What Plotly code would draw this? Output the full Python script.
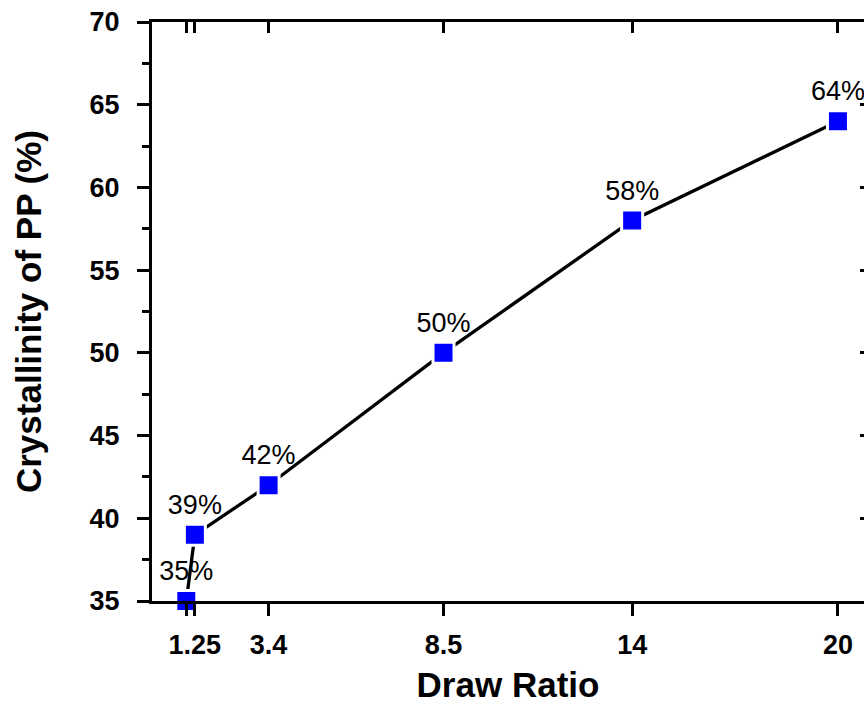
import plotly.graph_objects as go

draw_ratio = [1, 1.25, 3.4, 8.5, 14, 20]
crystallinity = [35, 39, 42, 50, 58, 64]
point_labels = ["35%", "39%", "42%", "50%", "58%", "64%"]
x_tick_vals = [1, 1.25, 3.4, 8.5, 14, 20]
x_tick_text = ["", "1.25", "3.4", "8.5", "14", "20"]
y_tick_vals = [35, 40, 45, 50, 55, 60, 65, 70]

FONT = "Liberation Sans, Arial, sans-serif"
X_RANGE = [0, 20.76]
Y_RANGE = [35, 70]

fig = go.Figure()
fig.add_trace(go.Scatter(
    x=draw_ratio, y=crystallinity,
    mode="lines+markers+text",
    text=point_labels, textposition="top center",
    textfont=dict(family=FONT, size=27, color="black"),
    line=dict(color="black", width=3.3),
    marker=dict(symbol="square", size=21, color="#0000FF",
                line=dict(color="white", width=3)),
    cliponaxis=False, showlegend=False,
))
fig.add_trace(go.Scatter(
    x=draw_ratio, y=crystallinity, xaxis="x2", yaxis="y2",
    mode="none", showlegend=False, hoverinfo="skip",
))

fig.update_layout(
    width=864, height=704,
    margin=dict(l=152, r=0, t=22, b=103),
    paper_bgcolor="white", plot_bgcolor="white",
    font=dict(family=FONT, color="black"),
    xaxis=dict(
        range=X_RANGE, tickmode="array", tickvals=x_tick_vals, ticktext=x_tick_text,
        ticks="outside", ticklen=12, tickwidth=3, tickcolor="black",
        showline=True, linewidth=3, linecolor="black",
        showgrid=False, zeroline=False, automargin=False,
        tickfont=dict(family=FONT, size=27, color="black", weight="bold"),
        ticklabelstandoff=6,
        title=dict(text="Draw Ratio", standoff=23,
                   font=dict(family=FONT, size=35, color="black", weight="bold")),
    ),
    xaxis2=dict(
        overlaying="x", side="top", range=X_RANGE,
        tickmode="array", tickvals=x_tick_vals,
        ticks="inside", ticklen=11, tickwidth=3, tickcolor="black",
        showline=True, linewidth=3, linecolor="black", automargin=False,
        showticklabels=False, showgrid=False, zeroline=False,
    ),
    yaxis=dict(
        range=Y_RANGE, tickmode="array", tickvals=y_tick_vals,
        ticks="outside", ticklen=12, tickwidth=3, tickcolor="black",
        minor=dict(ticks="outside", ticklen=7, tickwidth=3, tickcolor="black",
                   dtick=2.5, tick0=35, showgrid=False),
        showline=True, linewidth=3, linecolor="black",
        showgrid=False, zeroline=False, automargin=False,
        tickfont=dict(family=FONT, size=27, color="black", weight="bold"),
        ticklabelstandoff=12,
        title=dict(text="Crystallinity of PP (%)", standoff=38,
                   font=dict(family=FONT, size=35, color="black", weight="bold")),
    ),
    yaxis2=dict(
        overlaying="y", side="right", range=Y_RANGE,
        tickmode="array", tickvals=y_tick_vals,
        ticks="inside", ticklen=4, tickwidth=3, tickcolor="black", automargin=False,
        showline=False, showticklabels=False, showgrid=False, zeroline=False,
    ),
)

fig.write_html("out.html", config={"displayModeBar": False},
               post_script="document.body.style.margin='0';document.body.style.overflow='hidden';")
